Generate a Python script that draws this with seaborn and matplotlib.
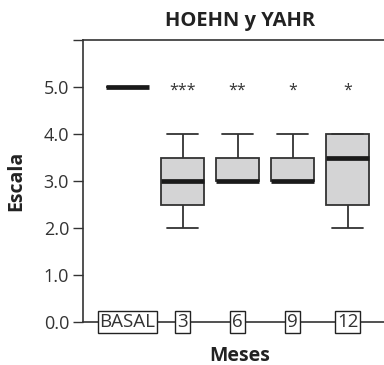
import numpy as np
import pandas as pd
import matplotlib
matplotlib.use("Agg")
import matplotlib.pyplot as plt
import seaborn as sns

# ---- data ----
categories = ["BASAL", "3", "6", "9", "12"]
basal_vals = [5, 5, 5, 5, 5, 5, 5]
m3_vals = [2, 2, 3, 3, 3, 4, 4]
m6_vals = [3, 3, 3, 3, 3.5, 3.5, 4]
m9_vals = [3, 3, 3, 3, 3.5, 3.5, 4]
m12_vals = [2, 2.5, 3.5, 4, 4]
signif = ["", "***", "**", "*", "*"]
yticks = [0, 1, 2, 3, 4, 5, 6]
ytick_labels = ["0.0", "1.0", "2.0", "3.0", "4.0", "5.0", ""]

rows = []
for cat, vals in zip(categories, [basal_vals, m3_vals, m6_vals, m9_vals, m12_vals]):
    for v in vals:
        rows.append({"Meses": cat, "Escala": v})
df = pd.DataFrame(rows)

sns.set_style("ticks")
plt.rcParams['font.family'] = ['Open Sans', 'DejaVu Sans']
txt = "#333333"
edge = "#333333"

fig = plt.figure(figsize=(3.84, 3.65), dpi=100)
ax = fig.add_axes([83/384, 43/365, 314/384, 282/365])

sns.boxplot(data=df, x="Meses", y="Escala", order=categories, ax=ax,
            color="#d4d4d5", width=0.78, linewidth=1.3, linecolor=edge,
            showfliers=False, capwidths=0.58,
            medianprops=dict(color="#1a1a1a", linewidth=3.4),
            boxprops=dict(facecolor="#d4d4d5", edgecolor=edge))

ax.set_xlim(-0.81, 4.9)
ax.set_ylim(0, 6)
ax.set_yticks(yticks)
ax.set_yticklabels(ytick_labels, fontsize=13, color=txt)
ax.tick_params(axis="y", length=7, width=1.0, color=edge, pad=3)
ax.set_xticks([])

for s in ["left", "bottom", "top"]:
    ax.spines[s].set_visible(True)
    ax.spines[s].set_color(edge)
    ax.spines[s].set_linewidth(1.2)
    ax.spines[s].set_zorder(4)
ax.spines["right"].set_visible(False)

# boxed category labels sitting on the x axis
for i, cat in enumerate(categories):
    ax.text(i, 0, cat, ha="center", va="center", fontsize=13.5, color=txt,
            bbox=dict(boxstyle="square,pad=0.1", facecolor="white",
                      edgecolor="#222222", linewidth=1.0),
            clip_on=False, zorder=6)

# significance marks
for i, s in enumerate(signif):
    if s:
        ax.text(i, 4.93, s, ha="center", va="center", fontsize=11.5, color=txt)

ax.set_title("HOEHN y YAHR", fontsize=14.5, fontweight="bold", color="#222222", pad=10)
ax.set_xlabel("Meses", fontsize=14, fontweight="bold", color="#222222")
ax.xaxis.set_label_coords(0.5, -0.085)
ax.set_ylabel("Escala", fontsize=14, fontweight="bold", color="#222222")
ax.yaxis.set_label_coords(-0.18, 0.5)

fig.savefig("out.png", dpi=100)
